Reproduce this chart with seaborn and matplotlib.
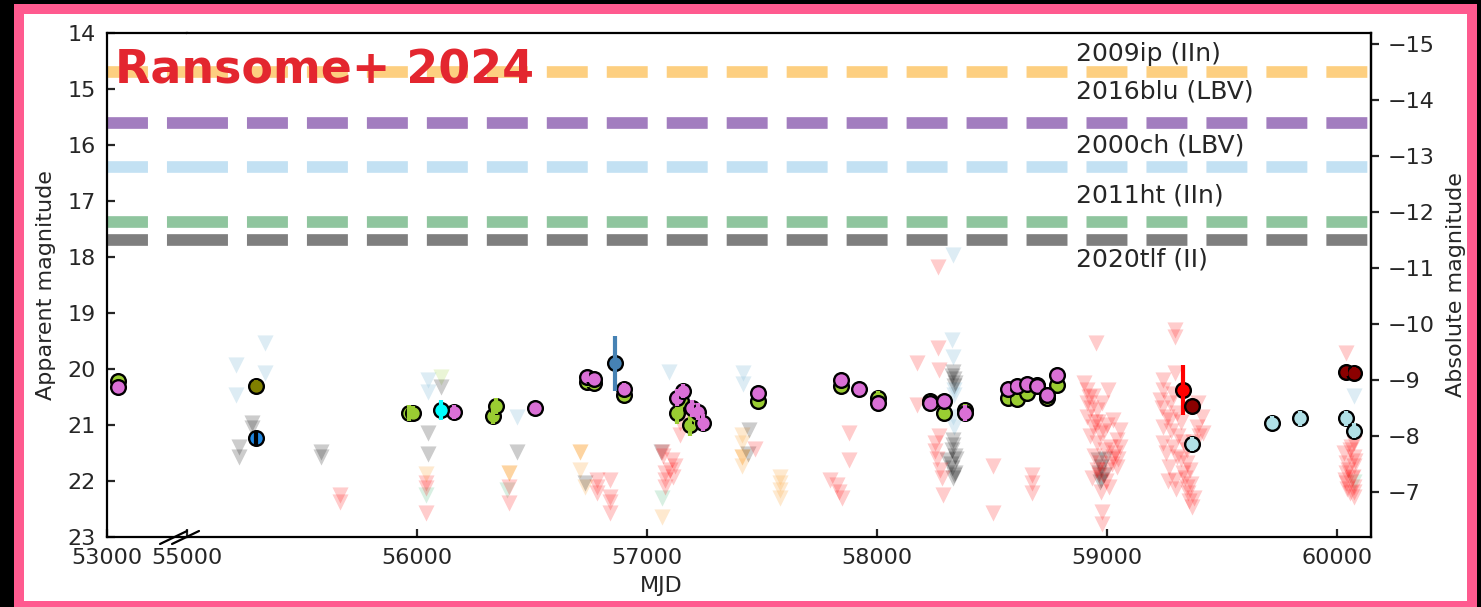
import matplotlib
matplotlib.use("Agg")
import matplotlib.pyplot as plt
import seaborn as sns
from matplotlib.patches import Rectangle
from matplotlib.lines import Line2D

# ------------------------------------------------------------------ data
ref_names = ["2009ip (IIn)", "2016blu (LBV)", "2000ch (LBV)", "2011ht (IIn)", "2020tlf (II)"]
ref_mags = [14.70, 15.60, 16.39, 17.375, 17.70]
ref_label_mags = [14.37, 15.04, 16.00, 16.91, 18.05]
ref_label_mjd = 58865
distance_modulus = 29.2

left_ticks = [53000]
main_ticks = [55000, 56000, 57000, 58000, 59000, 60000]
app_ticks = [14, 15, 16, 17, 18, 19, 20, 21, 22, 23]
abs_ticks = [-15, -14, -13, -12, -11, -10, -9, -8, -7]

# detections (circles)
det_yg_mjd = [53048, 55966, 55983, 56332, 56343, 56738, 56770, 56900, 57129, 57150, 57187,
              57215, 57484, 57842, 58006, 58230, 58291, 58383, 58568, 58610, 58653, 58697,
              58738, 58781]
det_yg_mag = [20.22, 20.78, 20.78, 20.84, 20.66, 20.23, 20.25, 20.46, 20.79, 20.58, 21.00,
              20.84, 20.58, 20.30, 20.51, 20.57, 20.79, 20.73, 20.52, 20.54, 20.42, 20.29,
              20.52, 20.29]
det_yg_err = [0.08, 0.14, 0.12, 0.14, 0.14, 0.10, 0.10, 0.10, 0.20, 0.20, 0.20,
              0.20, 0.10, 0.10, 0.12, 0.10, 0.10, 0.10, 0.10, 0.10, 0.10, 0.10,
              0.10, 0.10]

det_or_mjd = [53048, 56161, 56513, 56738, 56770, 56900, 57129, 57155, 57194, 57223, 57245,
              57484, 57842, 57923, 58006, 58230, 58291, 58383, 58568, 58610, 58653, 58697,
              58738, 58781]
det_or_mag = [20.33, 20.77, 20.70, 20.15, 20.17, 20.35, 20.51, 20.39, 20.70, 20.76, 20.96,
              20.42, 20.20, 20.35, 20.61, 20.60, 20.57, 20.78, 20.35, 20.30, 20.26, 20.30,
              20.46, 20.11]
det_or_err = [0.10, 0.12, 0.10, 0.08, 0.08, 0.10, 0.15, 0.12, 0.15, 0.15, 0.15,
              0.08, 0.08, 0.08, 0.10, 0.08, 0.08, 0.14, 0.08, 0.08, 0.08, 0.08,
              0.08, 0.08]

det_ol_mjd = [55300]
det_ol_mag = [20.30]
det_ol_err = [0.10]

det_db_mjd = [55300]
det_db_mag = [21.23]
det_db_err = [0.12]

det_cy_mjd = [56104]
det_cy_mag = [20.73]
det_cy_err = [0.18]

det_sb_mjd = [56861]
det_sb_mag = [19.90]
det_sb_err = [0.49]

det_rd_mjd = [59332]
det_rd_mag = [20.38]
det_rd_err = [0.45]

det_dr_mjd = [59368, 60039, 60074]
det_dr_mag = [20.66, 20.05, 20.07]
det_dr_err = [0.08, 0.08, 0.10]

det_pb_mjd = [59368, 59719, 59839, 60039, 60074]
det_pb_mag = [21.34, 20.96, 20.88, 20.88, 21.10]
det_pb_err = [0.13, 0.12, 0.13, 0.13, 0.13]

# upper limits (triangles)
ul_lb_mjd = [55213, 55213, 55339, 55339, 56049, 56049, 56433, 57097, 57416, 57416,
             58332, 58325, 58332, 58335, 58335, 58332, 58335, 60074]
ul_lb_mag = [19.93, 20.46, 19.54, 20.07, 20.20, 20.41, 20.86, 20.05, 20.08, 20.26,
             17.96, 19.48, 19.78, 20.38, 20.46, 20.85, 21.03, 20.49]

ul_gy_mjd = [55227, 55227, 55281, 55281, 55581, 55581, 56049, 56049, 56104, 56433,
             56730, 57060, 57445, 57440, 58332, 58335, 58335, 58332, 58325, 58303,
             58325, 58335, 58961, 58972, 58970,
             58330, 58338, 58320, 58340, 58330, 58345, 58325, 58340,
             58975, 58985, 58965, 58990]
ul_gy_mag = [21.39, 21.57, 20.96, 21.06, 21.48, 21.57, 21.15, 21.51, 20.32, 21.48,
             22.03, 21.48, 21.09, 21.51, 20.05, 20.18, 20.30, 21.27, 21.45, 21.63,
             21.77, 21.89, 21.63, 21.98, 22.01,
             21.35, 21.55, 21.70, 21.85, 21.95, 21.60, 20.12, 20.25,
             21.75, 21.90, 21.85, 21.60]

ul_rd_mjd = [55665, 55665, 56039, 56039, 56039, 56401, 56401, 56781, 56781, 56781,
             56839, 56839, 56839, 56839, 57064, 57070, 57107, 57122, 57078, 57100,
             57078, 57115, 57078, 57145, 57145, 57470, 57796, 57825, 57835, 57846,
             57880, 57880, 58172, 58172, 58264, 58264, 58268, 58252, 58252, 58281,
             58288, 58506, 58506, 58672, 58672, 58672,
             58260, 58275, 58245, 58270,
             58952, 58912, 58940, 59006, 58912, 58955, 58912, 58940, 58970, 59027,
             59057, 59042, 59013, 58955, 58970, 59027, 58999, 59057, 58955, 58977,
             58977,
             58920, 58930, 58962, 58985, 58925, 59000, 59035, 58990, 58945, 59020,
             58965, 59045, 58995, 58935, 59010, 58975, 58950, 59050, 58980, 58900,
             59296, 59296, 59296, 59245, 59245, 59230, 59274, 59303, 59274, 59245,
             59412, 59419, 59245, 59288, 59303, 59346, 59361, 59296, 59346, 59353,
             59368, 59332, 59390,
             59240, 59260, 59280, 59310, 59330, 59255, 59320, 59350, 59375, 59400,
             59340, 59365, 59300, 59355, 59380, 59270, 59320, 59395, 59285, 59265,
             60039, 60074, 60057, 60074, 60039, 60074, 60039, 60070, 60039, 60074,
             60057, 60074,
             60030, 60050, 60065, 60045, 60080, 60060, 60035, 60075]
ul_rd_mag = [22.25, 22.37, 22.04, 22.12, 22.58, 22.10, 22.40, 21.98, 22.10, 22.22,
             21.98, 22.28, 22.37, 22.58, 21.48, 21.55, 21.63, 21.74, 21.86, 21.80,
             21.98, 21.92, 22.10, 20.97, 21.18, 21.42, 21.98, 22.07, 22.20, 22.31,
             21.15, 21.63, 19.90, 20.64, 18.17, 19.63, 20.02, 21.33, 21.47, 21.95,
             22.25, 21.74, 22.58, 21.89, 22.04, 22.22,
             21.60, 21.80, 20.60, 21.20,
             19.54, 20.38, 20.49, 20.38, 20.61, 20.73, 20.85, 21.03, 21.15, 20.91,
             21.09, 21.27, 21.39, 21.33, 21.68, 21.57, 21.80, 21.39, 21.80, 22.55,
             22.76,
             20.50, 20.70, 20.95, 21.10, 21.20, 21.00, 21.50, 21.45, 21.55, 21.70,
             21.90, 21.75, 22.00, 21.95, 22.10, 22.20, 20.95, 21.60, 20.60, 20.25,
             19.30, 19.42, 20.08, 20.20, 20.38, 20.55, 20.61, 20.79, 20.91, 21.03,
             20.85, 21.15, 21.33, 21.39, 21.57, 21.68, 21.80, 21.98, 22.10, 22.22,
             22.46, 21.86, 21.03,
             20.70, 20.85, 21.10, 21.20, 21.30, 21.50, 21.60, 21.45, 21.30, 21.20,
             21.95, 22.05, 22.15, 22.35, 22.30, 21.75, 20.95, 20.60, 20.45, 22.00,
             19.72, 21.33, 21.45, 21.57, 21.68, 21.74, 21.86, 21.92, 22.04, 22.10,
             22.22, 22.28,
             21.50, 21.80, 21.95, 22.15, 21.65, 21.40, 21.98, 22.20]

ul_orl_mjd = [56039, 56709, 56730, 57064, 57411, 57411, 57411, 57578, 57578, 57578, 57578]
ul_orl_mag = [21.88, 21.80, 22.10, 22.64, 21.18, 21.33, 21.74, 21.92, 22.04, 22.16, 22.31]

ul_ord_mjd = [56709, 57411, 56401]
ul_ord_mag = [21.49, 21.57, 21.86]

ul_tl_mjd = [56039, 56390, 57064, 60074]
ul_tl_mag = [22.25, 22.16, 22.31, 22.02]

ul_yl_mjd = [56104]
ul_yl_mag = [20.14]

# ------------------------------------------------------------------ style
ref_colors = ["#fdcf80", "#a27dbf", "#c3e1f3", "#8fc59e", "#7f7f7f"]

ul_groups = [
    (ul_tl_mjd, ul_tl_mag, "mediumseagreen", 0.2),
    (ul_orl_mjd, ul_orl_mag, "#fdb863", 0.3),
    (ul_ord_mjd, ul_ord_mag, "#fdb863", 0.6),
    (ul_lb_mjd, ul_lb_mag, "#a6cee3", 0.38),
    (ul_yl_mjd, ul_yl_mag, "yellowgreen", 0.2),
    (ul_gy_mjd, ul_gy_mag, "black", 0.2),
    (ul_rd_mjd, ul_rd_mag, "red", 0.2),
]
det_groups = [
    (det_yg_mjd, det_yg_mag, det_yg_err, "yellowgreen", "yellowgreen"),
    (det_or_mjd, det_or_mag, det_or_err, "orchid", "orchid"),
    (det_ol_mjd, det_ol_mag, det_ol_err, "olive", "olive"),
    (det_db_mjd, det_db_mag, det_db_err, "#1f86e0", "black"),
    (det_cy_mjd, det_cy_mag, det_cy_err, "cyan", "cyan"),
    (det_sb_mjd, det_sb_mag, det_sb_err, "steelblue", "steelblue"),
    (det_rd_mjd, det_rd_mag, det_rd_err, "red", "red"),
    (det_dr_mjd, det_dr_mag, det_dr_err, "darkred", "darkred"),
    (det_pb_mjd, det_pb_mag, det_pb_err, "powderblue", "powderblue"),
]

sns.set_style("ticks")
plt.rcParams["font.family"] = ["DejaVu Sans"]

W, H = 1481, 607
fig = plt.figure(figsize=(W / 100, H / 100), dpi=100)
fig.patch.set_facecolor("black")


def fx(px):
    return px / W


def fy(py):
    return 1 - py / H


pink = "#ff5a8f"
fig.add_artist(Rectangle((fx(14), fy(607)), fx(1477) - fx(14), fy(4) - fy(607),
                         transform=fig.transFigure, facecolor=pink, edgecolor="none", zorder=-20))
fig.add_artist(Rectangle((fx(24), fy(601)), fx(1467) - fx(24), fy(14) - fy(601),
                         transform=fig.transFigure, facecolor="white", edgecolor="none", zorder=-19))

ax0 = fig.add_axes([fx(107), fy(537), fx(187) - fx(107), fy(33) - fy(537)])
ax1 = fig.add_axes([fx(187), fy(537), fx(1371) - fx(187), fy(33) - fy(537)])

for ax in (ax0, ax1):
    ax.set_facecolor("white")
    for m, c in zip(ref_mags, ref_colors):
        ax.axhline(m, color=c, lw=8.4, ls=(0, (3.51, 1.63)), zorder=1)
    for xs, ys, c, a in ul_groups:
        sns.scatterplot(x=xs, y=ys, ax=ax, marker="v", s=135, color=c, alpha=a,
                        linewidth=0, legend=False, zorder=2)
    z = 3
    for xs, ys, es, fc, ec in det_groups:
        sns.scatterplot(x=xs, y=ys, ax=ax, marker="o", s=112, color=fc, edgecolor="black",
                        linewidth=1.7, legend=False, zorder=z)
        ax.vlines(xs, [y - e for y, e in zip(ys, es)], [y + e for y, e in zip(ys, es)],
                  color=ec, lw=3, zorder=z + 0.05)
        z += 0.1
    ax.set_ylim(23, 14)
    for sp in ax.spines.values():
        sp.set_linewidth(1.6)
        sp.set_color("black")

ax0.set_xlim(53000, 53350)
ax1.set_xlim(55000, 60148)
ax0.spines["right"].set_visible(False)
ax1.spines["left"].set_visible(False)

ax0.set_xticks(left_ticks)
ax0.set_xticklabels([str(t) for t in left_ticks])
ax0.set_yticks(app_ticks)
ax0.set_yticklabels([str(t) for t in app_ticks])
ax0.tick_params(axis="both", direction="in", length=6, width=1.6, labelsize=16, pad=8,
                left=True, bottom=True, right=False, top=False)
ax0.set_ylabel("Apparent magnitude", fontsize=16, labelpad=8)

ax1.set_xticks(main_ticks)
ax1.set_xticklabels([str(t) for t in main_ticks])
ax1.set_yticks([])
ax1.tick_params(axis="x", direction="in", length=6, width=1.6, labelsize=16, pad=8,
                bottom=True, top=False)

ax2 = ax1.twinx()
ax2.set_ylim(23 - distance_modulus, 14 - distance_modulus)
ax2.set_yticks(abs_ticks)
ax2.set_yticklabels([("\u2212" + str(-t)) for t in abs_ticks])
ax2.tick_params(axis="y", direction="out", length=6, width=1.6, labelsize=16, pad=6)
for k in ("left", "top", "bottom"):
    ax2.spines[k].set_visible(False)
ax2.spines["right"].set_linewidth(1.6)
ax2.spines["right"].set_color("black")
ax2.set_ylabel("Absolute magnitude", fontsize=16, labelpad=8)

for name, lm in zip(ref_names, ref_label_mags):
    ax1.text(ref_label_mjd, lm, name, fontsize=18, ha="left", va="center", zorder=6)

# axis break marks
for x0, x1 in ((160, 187), (172, 199)):
    fig.add_artist(Line2D([fx(x0), fx(x1)], [fy(544), fy(531)], transform=fig.transFigure,
                          color="black", lw=1.6, zorder=5))

fig.text(fx(661), fy(586), "MJD", fontsize=16, ha="center", va="center")
fig.text(fx(115), fy(83), "Ransome+ 2024", fontsize=33, fontweight="bold",
         color="#e3262f", ha="left", va="baseline", zorder=10)

fig.savefig("out.png", dpi=100, facecolor=fig.get_facecolor())
